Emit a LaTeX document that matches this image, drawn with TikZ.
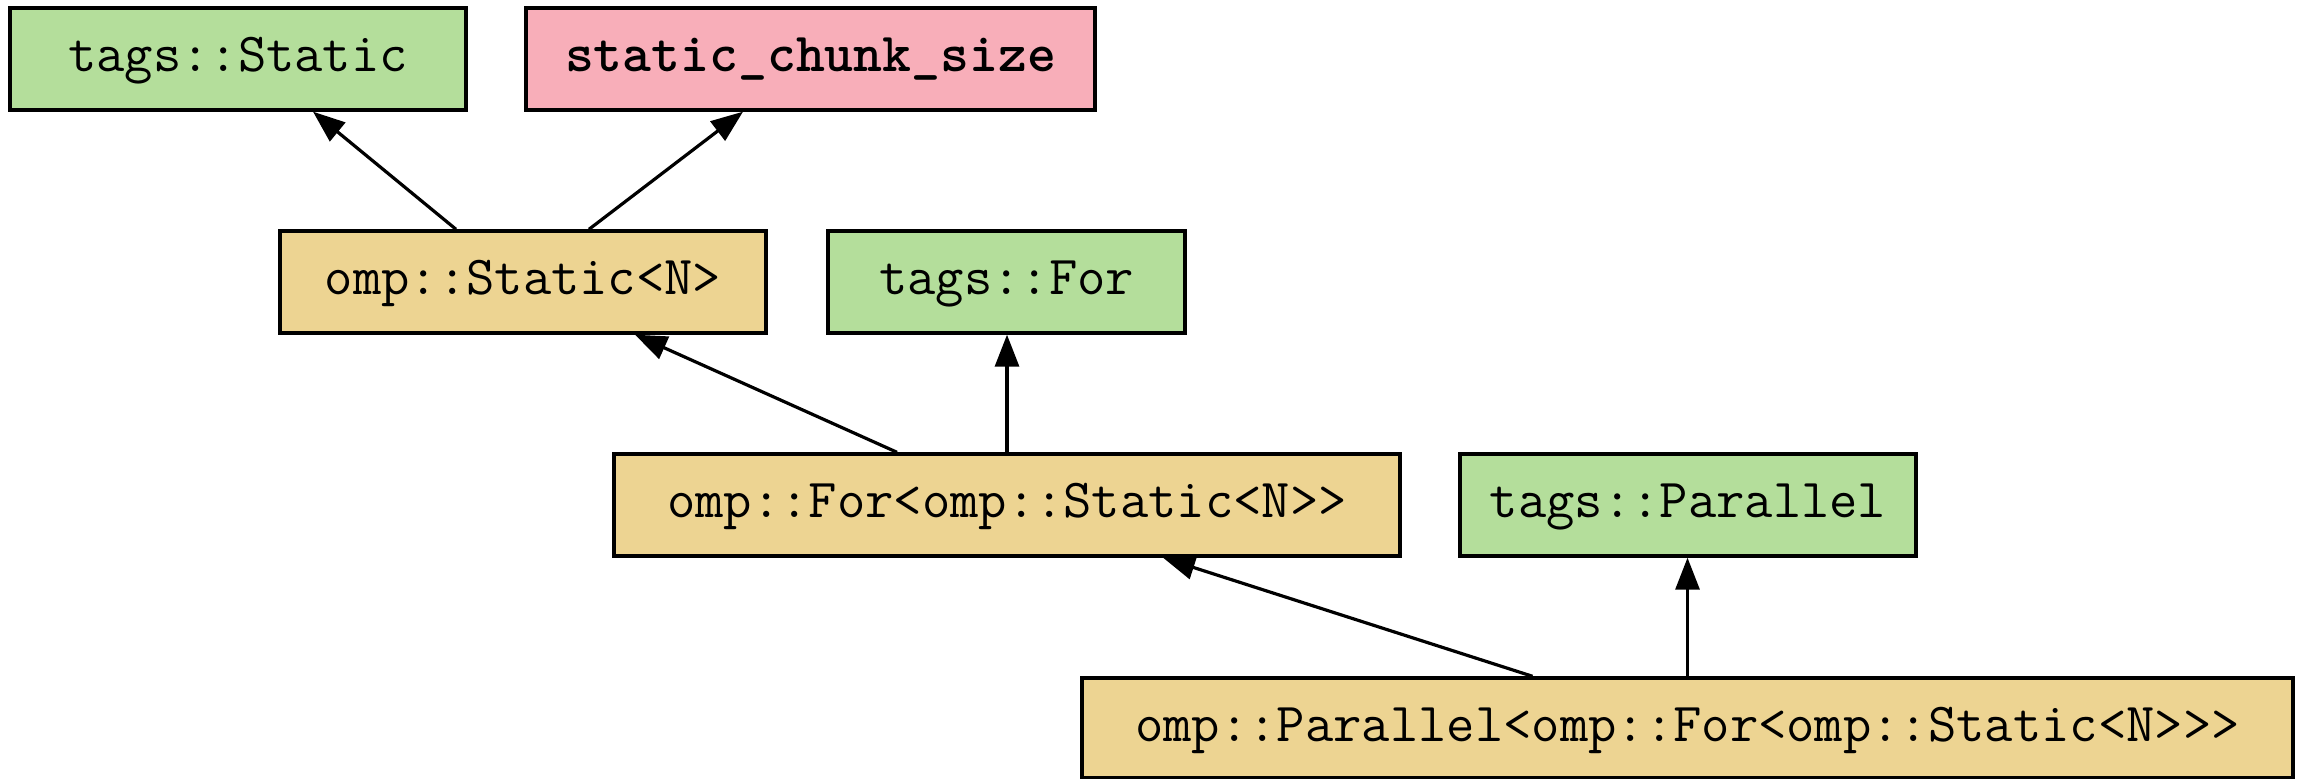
\documentclass[tikz,border=0pt]{standalone}
\usetikzlibrary{arrows.meta,calc}
\definecolor{taggreen}{RGB}{180,222,155}
\definecolor{keypink}{RGB}{248,174,185}
\definecolor{classtan}{RGB}{237,212,146}
\begin{document}
\begin{tikzpicture}[x=0.5pt,y=-0.5pt,
  box/.style={draw, rectangle, line width=1.7pt, inner sep=0pt,
    minimum height=51pt, font=\fontsize{27.5}{32}\selectfont\ttfamily,
    text height=19pt, text depth=6pt},
  tagbox/.style={box, fill=taggreen},
  classbox/.style={box, fill=classtan},
  constbox/.style={box, fill=keypink, font=\fontsize{27.5}{32}\selectfont\ttfamily\bfseries},
  link/.style={line width=1.6pt, -{Triangle[length=16pt,width=12pt]}}]
\useasboundingbox (0,0) rectangle (2305,779);

% row 1
\node[tagbox,   minimum width=228pt]   (tS) at (238,59)    {tags::Static};
\node[constbox, minimum width=284.5pt] (sc) at (810.5,59)  {static\_chunk\_size};
% row 2
\node[classbox, minimum width=243pt]   (oS) at (523,282)   {omp::Static<N>};
\node[tagbox,   minimum width=178.5pt] (tF) at (1006.5,282) {tags::For};
% row 3
\node[classbox, minimum width=393pt]   (oF) at (1007,505)  {omp::For<omp::Static<N>>};
\node[tagbox,   minimum width=228pt]   (tP) at (1688,505)  {tags::Parallel};
% row 4
\node[classbox, minimum width=605.5pt, minimum height=50pt] (oP) at (1687.5,728)
  {omp::Parallel<omp::For<omp::Static<N>>>};

% inheritance edges
\draw[link] ($(oS.north)+(-67,0)$)  -- ($(tS.south)+(75,0)$);
\draw[link] ($(oS.north)+(66,0)$)   -- ($(sc.south)+(-67.5,0)$);
\draw[link] ($(oF.north)+(-110,0)$) -- ($(oS.south)+(112,0)$);
\draw[link] (oF.north)              -- (oF.north |- tF.south);
\draw[link] ($(oP.north)+(-155,0)$) -- ($(oF.south)+(156,0)$);
\draw[link] (oP.north)              -- (oP.north |- tP.south);
\end{tikzpicture}
\end{document}
